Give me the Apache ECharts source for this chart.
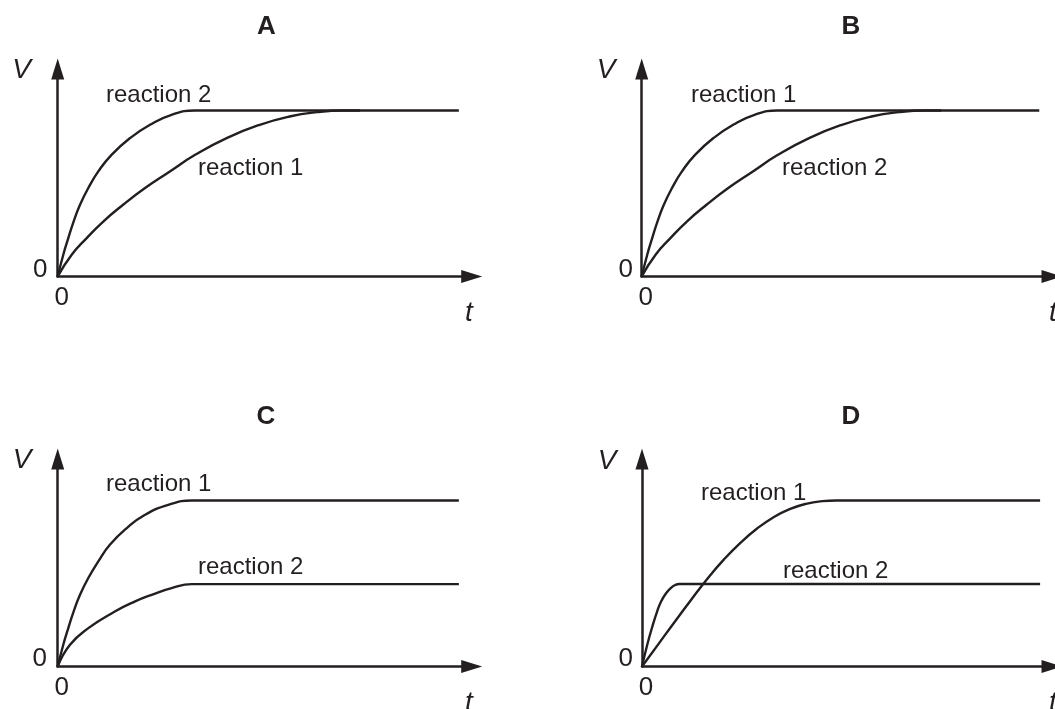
<!DOCTYPE html>
<html><head><meta charset="utf-8">
<script src="https://cdn.jsdelivr.net/npm/echarts@6/dist/echarts.min.js"></script>
<style>html,body{margin:0;padding:0;background:#fff}#c{width:1055px;height:709px}</style>
</head><body><div id="c"></div>
<script>
// Panel titles
const panelTitles = ['A', 'B', 'C', 'D'];
// Labels for the two curves in each panel
const labelTexts = [['reaction 2', 'reaction 1'], ['reaction 1', 'reaction 2'], ['reaction 1', 'reaction 2'], ['reaction 1', 'reaction 2']];
// Axis extents (arbitrary units)
const tMax = 100;
const vMax = 12.5;
// Tick labels shown at the origin
const originLabel = '0';
// Curve data [t, V] per panel
const a_r2 = [[0,0],[1.35,1.31],[2.56,2.31],[3.8,3.28],[5.39,4.32],[7.39,5.33],[9.81,6.33],[13.0,7.33],[17.5,8.34],[22.3,9.14],[27.5,9.74],[33.1,10],[37,10],[96.9,10]];
const a_r1 = [[0,0],[3.38,1.31],[7.0,2.31],[11.0,3.31],[15.8,4.32],[21.1,5.33],[27.1,6.33],[33.2,7.33],[40.8,8.34],[48.8,9.14],[56,9.64],[62.6,9.9],[69,10],[73,10]];
const b_r1 = [[0,0],[1.35,1.31],[2.56,2.31],[3.8,3.28],[5.39,4.32],[7.39,5.33],[9.81,6.33],[13.0,7.33],[17.5,8.34],[22.3,9.14],[27.5,9.74],[33.1,10],[37,10],[96.9,10]];
const b_r2 = [[0,0],[3.38,1.31],[7.0,2.31],[11.0,3.31],[15.8,4.32],[21.1,5.33],[27.1,6.33],[33.2,7.33],[40.8,8.34],[48.8,9.14],[56,9.64],[62.6,9.9],[69,10],[73,10]];
const c_r1 = [[0,0],[1.35,1.31],[2.56,2.31],[3.8,3.28],[5.39,4.32],[7.39,5.33],[9.81,6.33],[12.6,7.33],[16.7,8.34],[21.1,9.14],[26.7,9.74],[32.4,10],[36,10],[96.9,10]];
const c_r2 = [[0,0],[2.97,1.31],[7.4,2.31],[13.8,3.31],[18.7,3.92],[22.7,4.32],[27.5,4.72],[32.4,4.96],[36,4.96],[96.9,4.96]];
const d_r1 = [[0,0],[4,1.35],[8,2.7],[12,4.02],[16,5.3],[20,6.45],[24,7.45],[28,8.3],[32,8.98],[36,9.48],[40,9.8],[44,9.96],[47.3,10],[51,10],[97.1,10]];
const d_r2 = [[0,0],[1.28,1.31],[2.42,2.32],[3.7,3.32],[4.66,3.92],[5.87,4.41],[7.08,4.74],[8.09,4.91],[9.1,4.97],[12,4.97],[97.1,4.97]];

const panelData = [[a_r2, a_r1], [b_r1, b_r2], [c_r1, c_r2], [d_r1, d_r2]];

const INK = '#231f20';
const FONT = "'Liberation Sans', Arial, sans-serif";
const gridLefts = [57.7, 641.7, 57.7, 642];
const gridTops = [69, 69, 459, 459];
const GW = 414, GH = 207.5;

const grids = [], xAxes = [], yAxes = [], series = [], graphics = [];
for (let i = 0; i < 4; i++) {
  grids.push({left: gridLefts[i], top: gridTops[i], width: GW, height: GH, containLabel: false});
  xAxes.push({
    type: 'value', gridIndex: i, min: 0, max: tMax, interval: tMax,
    axisLine: {show: true, onZero: false, symbol: ['none', 'triangle'], symbolSize: [13, 21], lineStyle: {color: INK, width: 2.5}},
    axisTick: {show: false}, splitLine: {show: false},
    axisLabel: {show: true, margin: 8, color: INK, fontFamily: FONT, fontSize: 26, padding: [0, 0, 0, 8],
      formatter: v => (v === 0 ? originLabel : '')}
  });
  yAxes.push({
    type: 'value', gridIndex: i, min: 0, max: vMax, interval: vMax,
    axisLine: {show: true, onZero: false, symbol: ['none', 'triangle'], symbolSize: [13, 21], lineStyle: {color: INK, width: 2.5}},
    axisTick: {show: false}, splitLine: {show: false},
    axisLabel: {show: false}
  });
  panelData[i].forEach(d => {
    series.push({
      type: 'line', xAxisIndex: i, yAxisIndex: i, data: d, smooth: 0.5,
      showSymbol: false, symbol: 'none', silent: true,
      lineStyle: {color: INK, width: 2.4}
    });
  });
}

function txt(x, y, text, opts) {
  graphics.push({type: 'text', x: x, y: y, silent: true, style: Object.assign({
    text: text, fill: INK, fontFamily: FONT, fontSize: 24, align: 'left', verticalAlign: 'middle'
  }, opts || {})});
}
// titles
const titlePos = [[266.5, 27], [851, 27], [266, 416.5], [851, 416.5]];
panelTitles.forEach((t, i) => txt(titlePos[i][0], titlePos[i][1], t, {fontSize: 26, fontWeight: 'bold', align: 'center'}));
// V and t axis names
const vPos = [[21.5, 70], [606, 70], [22, 460], [607, 461]];
vPos.forEach(p => txt(p[0], p[1], 'V', {fontSize: 28, fontStyle: 'italic', align: 'center'}));
const tPos = [[469, 313], [1053, 313], [469, 703], [1053, 703]];
tPos.forEach(p => txt(p[0], p[1], 't', {fontSize: 28, fontStyle: 'italic', align: 'center'}));
// V-axis origin labels
const yZeroPos = [[47.5, 270], [633, 270], [47, 659], [633, 659]];
yZeroPos.forEach(p => txt(p[0], p[1], originLabel, {fontSize: 26, align: 'right'}));
// curve labels
const labelPos = [
  [[106, 95.5], [198, 168]],
  [[691, 95], [782, 168.5]],
  [[106, 484], [198, 567]],
  [[701, 493], [783, 571.5]]
];
labelTexts.forEach((pair, i) => pair.forEach((s, j) => txt(labelPos[i][j][0], labelPos[i][j][1], s)));

const chart = echarts.init(document.getElementById('c'), null, {renderer: 'canvas'});
chart.setOption({
  animation: false,
  backgroundColor: '#fff',
  grid: grids, xAxis: xAxes, yAxis: yAxes, series: series,
  graphic: graphics
});
</script>
</body></html>
